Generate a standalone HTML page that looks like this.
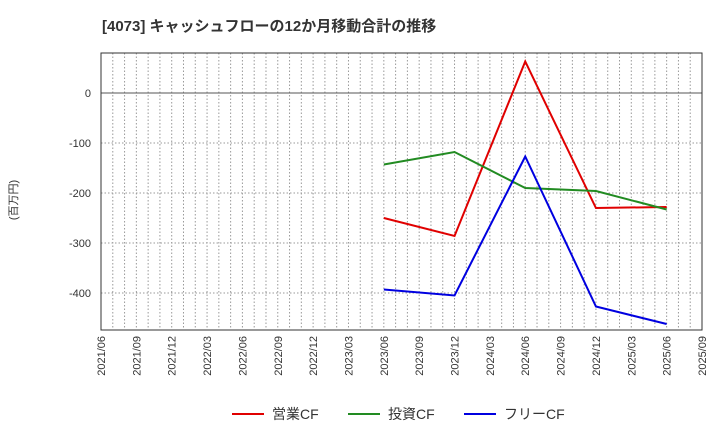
<!DOCTYPE html>
<html><head><meta charset="utf-8"><style>
body{margin:0;background:#fff;}
svg text{font-family:"Liberation Sans","Noto Sans CJK JP",sans-serif;}
</style></head><body>
<svg id="chart" width="720" height="440" xmlns="http://www.w3.org/2000/svg">
<text x="102" y="31" font-size="15" font-weight="bold" fill="#333">[4073]  キャッシュフローの12か月移動合計の推移</text>
<text transform="translate(17,200) rotate(-90)" text-anchor="middle" font-size="11" fill="#333">(百万円)</text>
<g id="grid"></g><g id="axes"></g><g id="series"></g><g id="legend"></g>
</svg>
<script>
const categories=["2023/06","2023/12","2024/06","2024/12","2025/06"];
const opCF=[-250,-286,63,-230,-228];
const invCF=[-143,-118,-190,-196,-233];
const freeCF=[-393,-405,-127,-427,-462];
const yTicks=[0,-100,-200,-300,-400];
const xTickLabels=["2021/06","2021/09","2021/12","2022/03","2022/06","2022/09","2022/12","2023/03","2023/06","2023/09","2023/12","2024/03","2024/06","2024/09","2024/12","2025/03","2025/06","2025/09"];
const NS="http://www.w3.org/2000/svg";
const L=101,R=702,T=53,B=330,yMax=80,yMin=-474;
const monthIdx=s=>{const[a,b]=s.split("/").map(Number);return (a-2021)*12+(b-6);};
const totalM=monthIdx("2025/09");
const xs=s=>L+(R-L)*monthIdx(s)/totalM;
const ys=v=>T+(B-T)*(yMax-v)/(yMax-yMin);
function mk(tag,attrs,parent){const e=document.createElementNS(NS,tag);for(const k in attrs)e.setAttribute(k,attrs[k]);parent.appendChild(e);return e;}
const grid=document.getElementById("grid"),axes=document.getElementById("axes"),ser=document.getElementById("series"),leg=document.getElementById("legend");
for(let m=1;m<totalM;m++){const x=L+(R-L)*m/totalM;
const g=mk("line",{x1:x,x2:x,y1:T,y2:B,stroke:"#999","stroke-dasharray":"1.5,2","stroke-width":1},grid);

}
yTicks.forEach(v=>{const y=ys(v);
const g=mk("line",{x1:L,x2:R,y1:y,y2:y,stroke:v===0?"#555":"#999","stroke-dasharray":v===0?"":"1.5,2","stroke-width":1},grid);


const t=mk("text",{x:L-10,y:y+4,"text-anchor":"end","font-size":11,fill:"#333"},axes);t.textContent=v;

});
const fr=mk("rect",{x:L,y:T,width:R-L,height:B-T,fill:"none",stroke:"#333","stroke-width":1},axes);


xTickLabels.forEach(s=>{const x=xs(s);
const t=mk("text",{transform:`translate(${x+4},${B+6}) rotate(-90)`,"text-anchor":"end","font-size":11,fill:"#333"},axes);t.textContent=s;

});
function line(vals,color,name){const p=mk("polyline",{points:vals.map((v,i)=>xs(categories[i])+","+ys(v)).join(" "),fill:"none",stroke:color,"stroke-width":2},ser);

}
line(opCF,"#e00000","operating-cf-line");
line(invCF,"#228b22","investing-cf-line");
line(freeCF,"#0000e0","free-cf-line");
[["営業CF","#e00000",232,"legend-operating-cf"],["投資CF","#228b22",348,"legend-investing-cf"],["フリーCF","#0000e0",464,"legend-free-cf"]].forEach(([lab,c,x,n])=>{
const g=mk("g",{},leg);


mk("line",{x1:x,x2:x+32,y1:414,y2:414,stroke:c,"stroke-width":2},g);
const t=mk("text",{x:x+40,y:419,"font-size":14,fill:"#333"},g);t.textContent=lab;});
</script>
</body></html>
